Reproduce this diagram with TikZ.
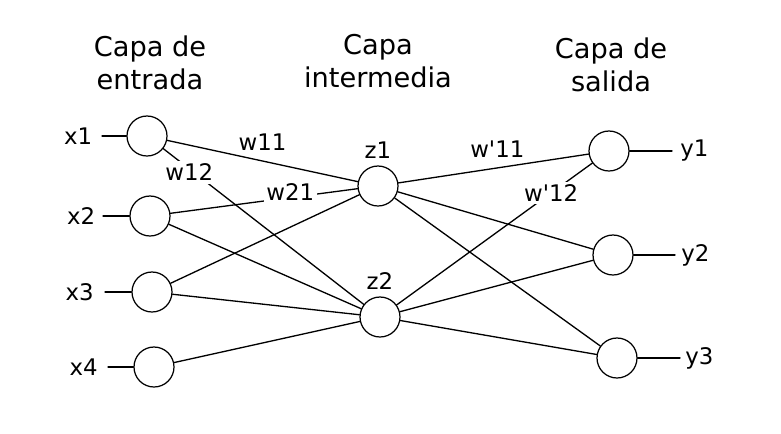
\documentclass[tikz,border=0pt]{standalone}
\usepackage{fontspec}
\setmainfont{DejaVu Sans}
\usetikzlibrary{positioning}

\begin{document}
\begin{tikzpicture}[x=0.02cm,y=-0.02cm,line cap=round,line join=round,
  neuron/.style={circle,draw,line width=0.7pt,fill=white,minimum size=0.8cm,inner sep=0pt},
  wire/.style={line width=0.75pt},
  lbl/.style={font=\fontsize{13}{13}\selectfont,inner sep=0pt},
  wlbl/.style={lbl,fill=white,inner sep=1.5pt},
  layertitle/.style={font=\fontsize{15.5}{18.5}\selectfont,align=center}]
  \useasboundingbox (0,0) rectangle (781,433);
  % titulos de las capas
  \node[layertitle] (tin) at (150,63) {Capa de\\entrada};
  \node[layertitle] (tmid) at (378,61) {Capa\\intermedia};
  \node[layertitle] (tout) at (611,65) {Capa de\\salida};
  % neuronas
  \node[neuron] (x1) at (147,136) {};
  \node[neuron] (x2) at (150,216) {};
  \node[neuron] (x3) at (152,292) {};
  \node[neuron] (x4) at (154,367) {};
  \node[neuron] (z1) at (378,186) {};
  \node[neuron] (z2) at (380,317) {};
  \node[neuron] (y1) at (609,151) {};
  \node[neuron] (y2) at (613,255) {};
  \node[neuron] (y3) at (617,358) {};
  \node[lbl,above=0.13cm of z1] (lz1) {z1};
  \node[lbl,above=0.13cm of z2] (lz2) {z2};
  % entradas
  \coordinate (i1) at (102,136);
  \coordinate (i2) at (103,216);
  \coordinate (i3) at (105,292);
  \coordinate (i4) at (108,367);
  \node[lbl,left=0.19cm of i1] (lx1) {x1};
  \node[lbl,left=0.15cm of i2] (lx2) {x2};
  \node[lbl,left=0.22cm of i3] (lx3) {x3};
  \node[lbl,left=0.2cm of i4] (lx4) {x4};
  \foreach \k in {1,2,3,4}
    \draw[wire] (i\k) -- (x\k);
  % salidas
  \coordinate (o1) at (672,151);
  \coordinate (o2) at (675,255);
  \coordinate (o3) at (680,358);
  \node[lbl,right=0.16cm of o1] (ly1) {y1};
  \node[lbl,right=0.12cm of o2] (ly2) {y2};
  \node[lbl,right=0.1cm of o3] (ly3) {y3};
  \foreach \k in {1,2,3}
    \draw[wire] (y\k) -- (o\k);
  % pesos
  \draw[wire] (x1) -- node[lbl,above=0.2cm,pos=0.5] (w11) {w11} (z1);
  \draw[wire] (x1) -- node[wlbl,pos=0.13,yshift=-2pt] (w12) {w12} (z2);
  \draw[wire] (x2) -- node[wlbl,pos=0.64,yshift=3pt] (w21) {w21} (z1);
  \draw[wire] (z1) -- node[lbl,above=0.2cm,pos=0.52] (v11) {w\textquotesingle 11} (y1);
  \draw[wire] (z2) -- node[wlbl,pos=0.79] (v12) {w\textquotesingle 12} (y1);
  % resto de conexiones
  \draw[wire] (x2) -- (z2);
  \draw[wire] (x3) -- (z1);
  \draw[wire] (x3) -- (z2);
  \draw[wire] (x4) -- (z2);
  \foreach \k in {2,3} {
    \draw[wire] (z1) -- (y\k);
    \draw[wire] (z2) -- (y\k);
  }
\end{tikzpicture}
\end{document}
